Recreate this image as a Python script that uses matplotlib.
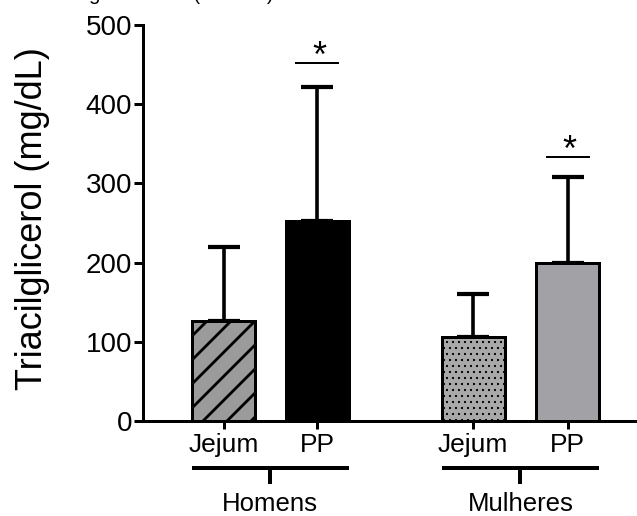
import matplotlib
matplotlib.use("Agg")
import matplotlib.pyplot as plt

plt.rcParams['font.family'] = ['Liberation Sans', 'DejaVu Sans']

# data
groups = ['Homens', 'Mulheres']
conditions = ['Jejum', 'PP', 'Jejum', 'PP']
means = [126, 252, 106, 200]
sd_upper = [94, 170, 54, 108]
positions = [0, 1, 2.67, 3.68]
fills = ['#9b9b9b', '#000000', '#a9a9a9', '#a2a2a6']
hatches = ['/', None, '..', None]
hatch_lw = [2.8, 1.0, 1.0, 1.0]
sig_bars = [1, 3]
sig_heights = [452, 333]

# at 72 dpi one point is one pixel, which also makes the hatch finer
DPI = 72
F = 100 / 72


def bracket(ax, x0, x1, label):
    ax.plot([x0, x1], [-59, -59], color='black', lw=4, clip_on=False,
            solid_capstyle='butt')
    xc = (x0 + x1) / 2
    ax.plot([xc, xc], [-59, -80], color='black', lw=4, clip_on=False,
            solid_capstyle='butt')
    ax.text(xc, -90, label, ha='center', va='top', fontsize=18.5 * F)


def main():
    fig = plt.figure(figsize=(637 / DPI, 516 / DPI), dpi=DPI)
    ax = fig.add_axes([0.2245, 0.1841, 1 - 0.2245, 0.7675])

    width = 0.674
    for x, m, c, h, hl in zip(positions, means, fills, hatches, hatch_lw):
        with plt.rc_context({'hatch.linewidth': hl}):
            ax.bar(x, m, width=width, color=c, edgecolor='black',
                   linewidth=3, hatch=h, zorder=3)
    ax.errorbar(positions, means, yerr=[[0] * 4, sd_upper], fmt='none',
                ecolor='black', elinewidth=3.6, capsize=16, capthick=4.2,
                zorder=2)

    for i, h in zip(sig_bars, sig_heights):
        x = positions[i]
        ax.plot([x - 0.225, x + 0.225], [h, h], color='black', lw=2)
        ax.text(x + 0.02, h - 5, '*', ha='center', va='baseline',
                fontsize=26 * F)

    ax.set_xlim(-0.861, 4.422)
    ax.set_ylim(0, 500)
    ax.set_yticks([0, 100, 200, 300, 400, 500])
    ax.set_xticks(positions)
    ax.set_xticklabels(conditions)
    ax.tick_params(axis='y', labelsize=20 * F, length=9, width=3, pad=2)
    ax.tick_params(axis='x', labelsize=19 * F, length=8, width=3, pad=4)
    for s in ['top', 'right']:
        ax.spines[s].set_visible(False)
    for s in ['left', 'bottom']:
        ax.spines[s].set_linewidth(3)

    ax.set_ylabel('Triacilglicerol (mg/dL)', fontsize=26 * F)
    ax.yaxis.set_label_coords(-0.188, 0.51)

    bracket(ax, positions[0] - width / 2, positions[1] + width / 2, groups[0])
    bracket(ax, positions[2] - width / 2, positions[3] + width / 2, groups[1])

    # header cut off at top of the original image
    fig.text(66 / 637, 1.0, 'Triglicerídeos (mmol/L)', fontsize=14.7 * F,
             ha='left', va='baseline')

    fig.savefig('out.png', dpi=DPI)


if __name__ == '__main__':
    main()
